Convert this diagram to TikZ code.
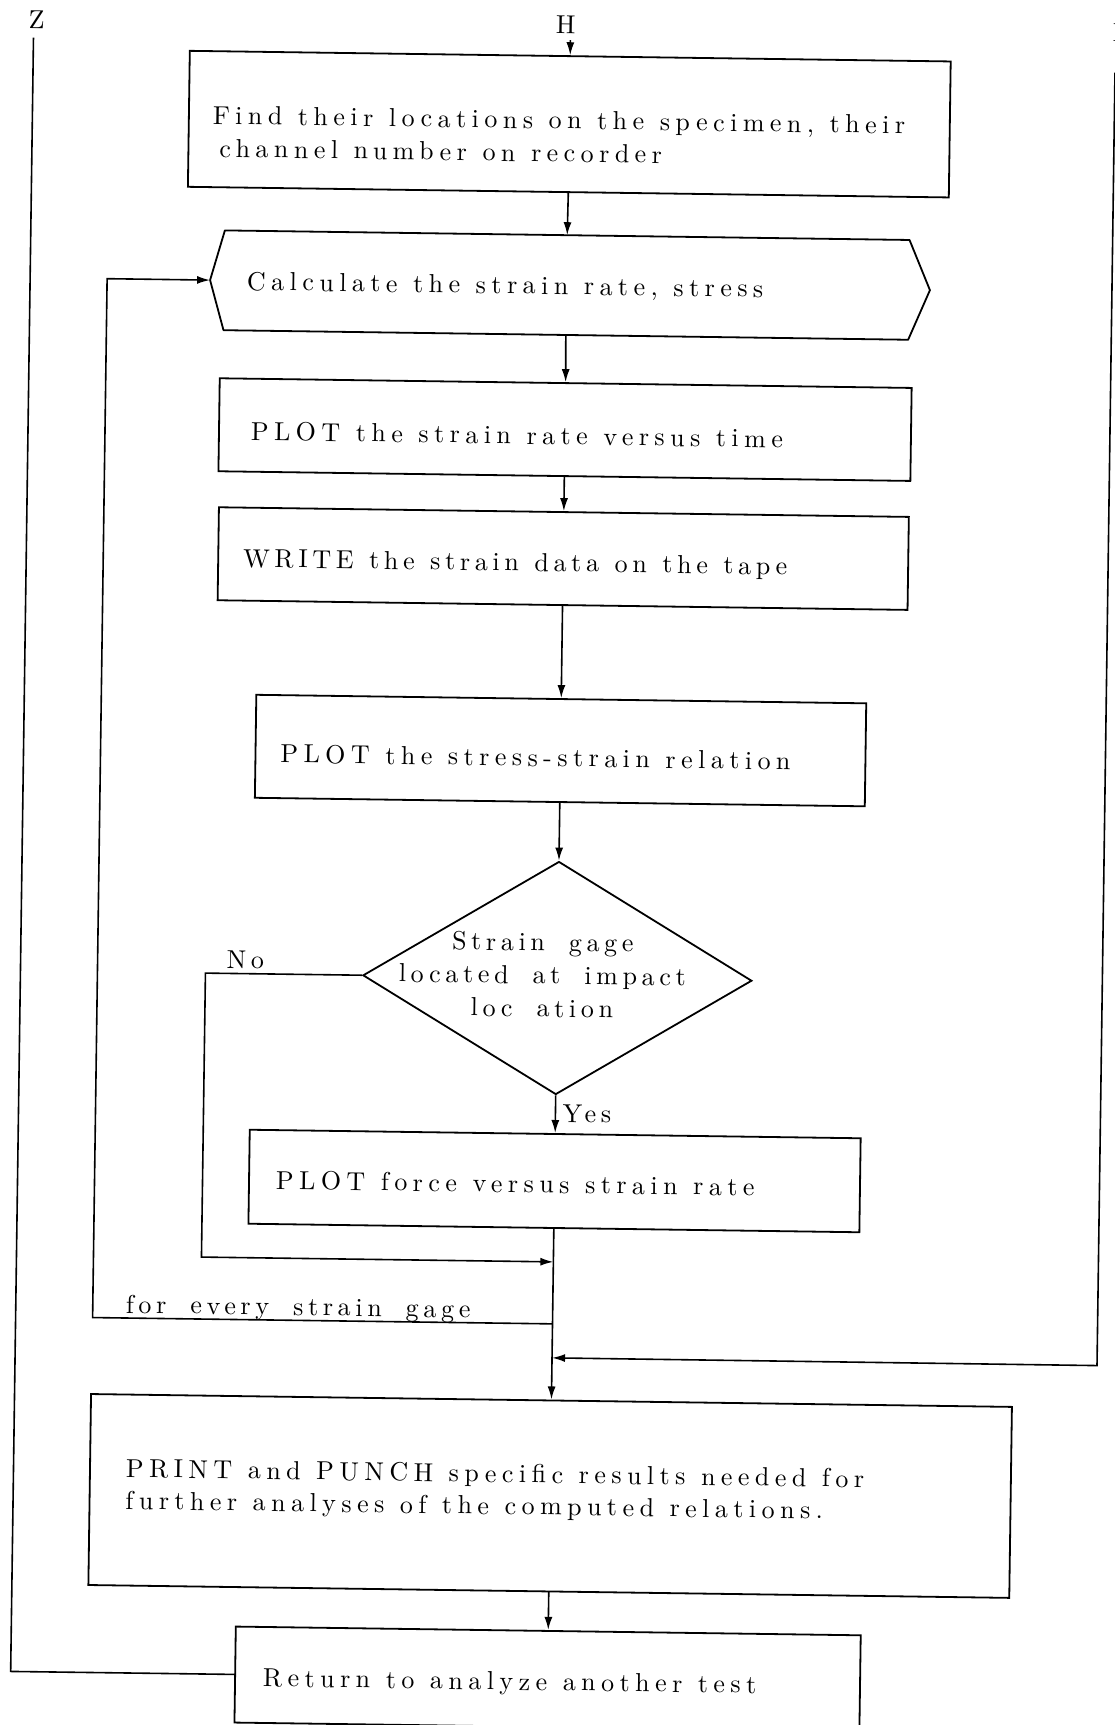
\documentclass[tikz,border=0pt]{standalone}
\usepackage{fontspec}
\setmainfont{lmroman10-regular.otf}[LetterSpace=18,WordSpace=1.8]
\usetikzlibrary{arrows.meta,shapes.geometric}
\newcommand\diagfont{\fontsize{26}{33}\selectfont}
\newcommand\boxfont{\diagfont\addfontfeature{LetterSpace=21}}
% ragged-right box text gets a fixed word space from TikZ; widen it again
\newcommand\widespaces{\spaceskip=15.6pt plus 5pt minus 3pt\relax\xspaceskip=\spaceskip}
\begin{document}
\begin{tikzpicture}[x=1pt,y=-1pt,
  lbl/.style={font=\diagfont, inner sep=0pt},
  box/.style={draw, line width=1.8pt, inner sep=0pt, align=left, font=\boxfont,
              execute at begin node=\widespaces},
  wire/.style={line width=1.6pt},
  flow/.style={wire, -{Latex[length=13pt,width=8pt]}},
]
\fill[white] (0,0) rectangle (1115,1725);
\useasboundingbox (0,0) rectangle (1115,1725);
\begin{scope}[rotate around={-0.8:(557,862)}, transform shape]
  % off-page connectors
  \node[lbl] (labZ) at (25,27) {Z};
  \node[lbl] (labH) at (554,25) {H};
  \node[lbl] (labI) at (1106,25) {I};
  \coordinate (zTop) at (22,45);
  \coordinate (hIn) at (559,40);
  \coordinate (iTop) at (1104,65);

  % process boxes
  \node[box, minimum width=761pt, minimum height=136pt, text width=713pt] (find) at (559,124)
    {\rule{0pt}{43pt}\mbox{Find their locations on the specimen, their}\\\hspace*{7pt}\mbox{channel number on recorder}};
  \node[box, draw=none, minimum width=683pt, minimum height=98pt, text width=639pt,
        text height=25pt, text depth=6pt] (calc) at (558.5,285)
    {Calculate the strain rate, stress};
  \coordinate (calcL) at (202,285);
  \coordinate (calcR) at (922,285);
  \draw[line width=1.8pt, line join=round] (calc.north west) -- (calc.north east) -- (calcR)
    -- (calc.south east) -- (calc.south west) -- (calcL) -- cycle;
  \node[box, minimum width=692pt, minimum height=93pt, text width=628pt,
        text height=36pt, text depth=6pt] (rate) at (559,429.5)
    {PLOT the strain rate versus time};
  \node[box, font=\diagfont, minimum width=690pt, minimum height=93pt, text width=640pt,
        text height=32pt, text depth=6pt] (tape) at (559,558.5)
    {WRITE the strain data on the tape};
  \node[box, minimum width=610pt, minimum height=103pt, text width=560pt,
        text height=38pt, text depth=6pt] (ss) at (559,750.5)
    {PLOT the stress-strain relation};
  \node[diamond, draw, line width=1.8pt, inner sep=0pt, minimum width=389pt, minimum height=233pt] (dec) at (559,978) {};
  \node[lbl, align=center] (decT) at (544,975) {Strain gage\\located at impact\\loc ation};
  \node[box, minimum width=611pt, minimum height=94pt, text width=557pt,
        text height=30pt, text depth=6pt] (force) at (559,1181)
    {PLOT force versus strain rate};
  \node[box, minimum width=921pt, minimum height=191pt, text width=849pt] (print) at (559,1496)
    {\mbox{PRINT and PUNCH specific results needed for}\\[-1pt]\mbox{further analyses of the computed relations.}\rule[-12pt]{0pt}{12pt}};
  \node[box, minimum width=625pt, minimum height=96pt, text width=569pt,
        text height=29pt, text depth=6pt] (ret) at (559,1679)
    {Return to analyze another test};

  % junctions on the main line
  \coordinate (j1) at (559,1262);
  \coordinate (j2) at (559,1324);
  \coordinate (j3) at (559,1358);

  % main flow
  \draw[flow] (hIn) -- (find.north);
  \draw[flow] (find.south) -- (calc.north);
  \draw[flow] (calc.south) -- (rate.north);
  \draw[flow] (rate.south) -- (tape.north);
  \draw[flow] (tape.south) -- (ss.north);
  \draw[flow] (ss.south) -- (dec.north);
  \draw[flow] (dec.south) -- (force.north);
  \draw[flow] (force.south) -- (print.north);
  \draw[flow] (print.south) -- (ret.north);

  % branches and loops
  \draw[flow] (dec.west) -- (207,978) -- (207,1262) -- (j1);
  \draw[flow] (j2) -- (99,1324) -- (99,285) -- (calcL);
  \draw[flow] (iTop) -- (1104,1358) -- (j3);
  \draw[wire] (zTop) -- (22,1679) -- (ret.west);

  % branch labels
  \node[lbl, anchor=base west] (labNo) at (228,973) {No};
  \node[lbl, anchor=base west] (labYes) at (566,1122) {Yes};
  \node[lbl, anchor=base west] (labLoop) at (132,1319) {for every strain gage};
\end{scope}
\end{tikzpicture}
\end{document}
